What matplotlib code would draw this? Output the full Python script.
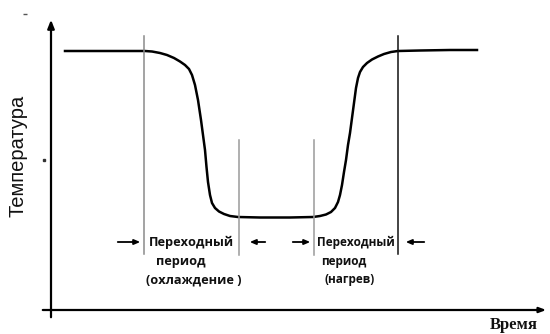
import matplotlib
matplotlib.use('Agg')
import matplotlib.pyplot as plt

# кривая температуры (время, температура), единицы условные
t_curve = [1.4, 4.9, 9.4, 10.1, 10.9, 11.6, 12.3, 12.9, 13.4, 13.8, 14.1, 14.4,
           14.7, 15.0, 15.2, 15.4, 15.55, 15.7, 15.9, 16.1, 16.4, 16.8, 17.3,
           17.9, 18.7, 20.9, 23.9, 26.2, 26.9, 27.5, 28.0, 28.4, 28.7, 28.9,
           29.1, 29.3, 29.5, 29.7, 29.9, 30.1, 30.3, 30.5, 30.7, 30.9, 31.2,
           31.6, 32.1, 32.7, 33.3, 34.0, 34.7, 36.9, 39.9, 42.6]
T_curve = [25.9, 25.9, 25.9, 25.85, 25.7, 25.5, 25.2, 24.85, 24.5, 24.1, 23.5,
           22.5, 21.0, 19.0, 17.5, 16.0, 14.3, 12.8, 11.5, 10.7, 10.2, 9.85,
           9.6, 9.4, 9.3, 9.25, 9.25, 9.3, 9.4, 9.55, 9.8, 10.2, 10.8, 11.5,
           12.5, 13.8, 15.0, 16.5, 17.7, 19.2, 20.7, 22.2, 23.2, 23.8, 24.3,
           24.7, 25.05, 25.35, 25.6, 25.8, 25.9, 25.95, 26.0, 26.0]

# вертикальные границы переходных периодов
t_bounds = [9.3, 18.8, 26.3, 34.7]
bound_bottom = [5.6, 5.5, 5.5, 5.6]
bound_top = [27.4, 17.0, 17.0, 27.4]
bound_color = ['#8a8a8a', '#9a9a9a', '#9a9a9a', '#111111']

labels_left = ['Переходный', 'период', '(охлаждение )']
labels_right = ['Переходный', 'период', '(нагрев)']

fig = plt.figure(figsize=(5.5, 3.34), dpi=100)
ax = fig.add_axes([0, 0, 1, 1])
ax.set_xlim(-5.1, 49.9)
ax.set_ylim(-2.4, 31.0)
ax.axis('off')

# оси со стрелками
ax.annotate('', xy=(0, 29.3), xytext=(0, -1.0),
            arrowprops=dict(arrowstyle='-|>,head_length=0.5,head_width=0.2',
                            color='black', lw=1.6))
ax.annotate('', xy=(49.8, 0), xytext=(-1.1, 0),
            arrowprops=dict(arrowstyle='-|>,head_length=0.4,head_width=0.15',
                            color='black', lw=1.6))

# кривая
ax.plot(t_curve, T_curve, color='black', lw=1.8, solid_joinstyle='round')

for i in range(len(t_bounds)):
    ax.plot([t_bounds[i], t_bounds[i]], [bound_bottom[i], bound_top[i]],
            color=bound_color[i], lw=1.1)

# стрелки переходных периодов
arr = dict(arrowstyle='-|>,head_length=0.35,head_width=0.15', color='black', lw=1.3)
ax.annotate('', xy=(9.2, 6.8), xytext=(6.4, 6.8), arrowprops=arr)
ax.annotate('', xy=(19.6, 6.8), xytext=(21.7, 6.8), arrowprops=arr)
ax.annotate('', xy=(26.2, 6.8), xytext=(23.9, 6.8), arrowprops=arr)
ax.annotate('', xy=(35.2, 6.8), xytext=(37.6, 6.8), arrowprops=arr)

fnt = dict(family='Open Sans', fontweight='bold', color='#111111')
y_lab = [6.8, 4.9, 3.0]
x_left = [14.0, 13.0, 14.3]
x_right = [30.5, 29.3, 29.9]
for i in range(3):
    ax.text(x_left[i], y_lab[i], labels_left[i], ha='center', va='center',
            fontsize=9.2, **fnt)
    ax.text(x_right[i], y_lab[i], labels_right[i], ha='center', va='center',
            fontsize=8.5, **fnt)

ax.text(-3.3, 15.4, 'Температура', rotation=90, ha='center', va='center',
        fontsize=14.5, family='Liberation Sans', color='#111111')
ax.text(46.3, -1.5, 'Время', ha='center', va='center', fontsize=12,
        family='Liberation Serif', fontweight='bold', color='#111111')

# мелкие отметки у оси
ax.plot([-2.6], [29.6], marker='_', color='#555555', ms=3)
ax.plot([-0.7], [15.0], marker='s', color='#333333', ms=1.5)

fig.savefig('out.png', dpi=100)
